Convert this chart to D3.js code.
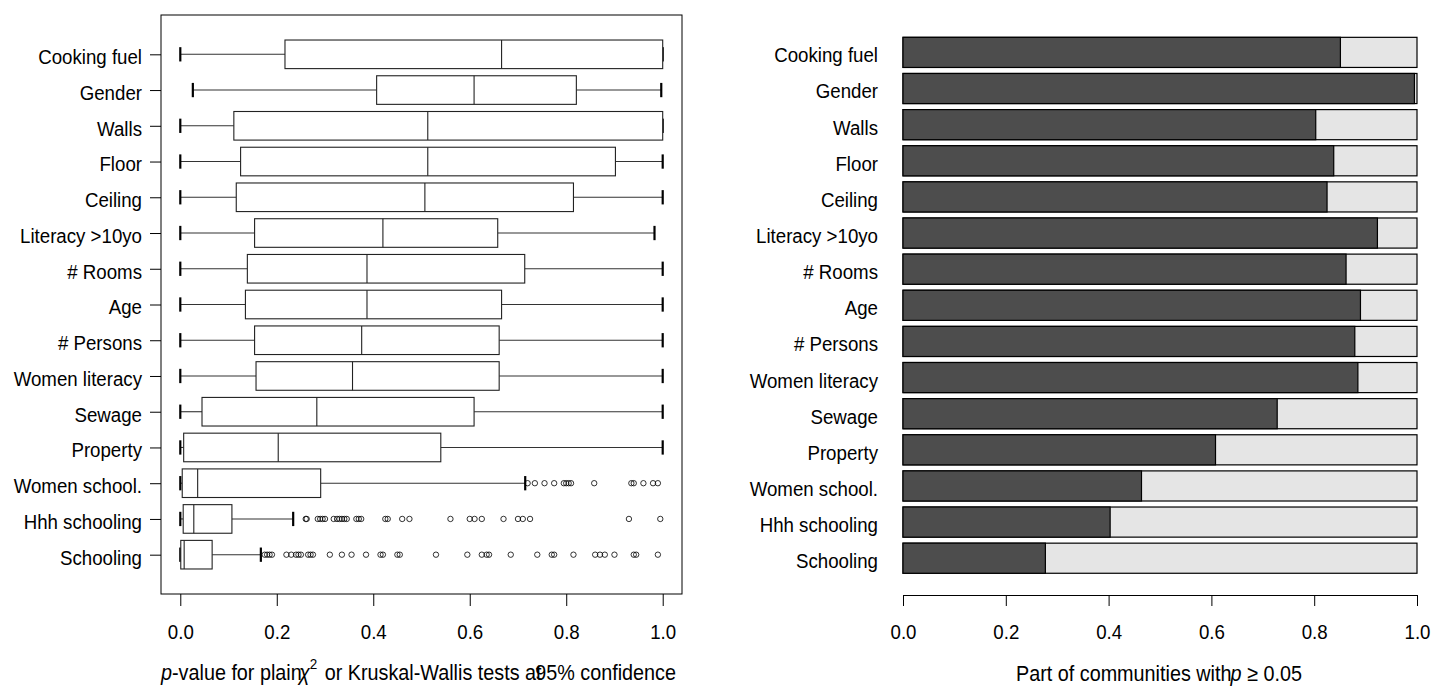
<!DOCTYPE html>
<html>
<head>
<meta charset="utf-8">
<script src="https://cdn.jsdelivr.net/npm/d3@7"></script>
<style>
  body { margin: 0; background: #fff; }
  svg { display: block; }
</style>
</head>
<body>
<div id="chart"></div>
<script>
// categories, top to bottom
const categories = ["Cooking fuel", "Gender", "Walls", "Floor", "Ceiling", "Literacy >10yo",
  "# Rooms", "Age", "# Persons", "Women literacy", "Sewage", "Property",
  "Women school.", "Hhh schooling", "Schooling"];

// box plot summaries of the p-values
const pMin    = [0, 0.026, 0, 0, 0, 0, 0, 0, 0, 0, 0, 0, 0, 0, 0];
const pQ1     = [0.217, 0.407, 0.111, 0.125, 0.116, 0.154, 0.139, 0.135, 0.154, 0.157, 0.045, 0.007, 0.004, 0.006, 0.001];
const pMedian = [0.666, 0.609, 0.513, 0.513, 0.507, 0.420, 0.387, 0.387, 0.376, 0.357, 0.283, 0.203, 0.036, 0.028, 0.008];
const pQ3     = [1.0, 0.821, 1.0, 0.902, 0.815, 0.658, 0.714, 0.666, 0.661, 0.661, 0.609, 0.540, 0.291, 0.107, 0.066];
const pMax    = [1, 0.997, 1, 1, 1, 0.983, 1, 1, 1, 1, 1, 1, 0.715, 0.234, 0.167];

// outliers
const outWomenSchool = [0.72, 0.735, 0.755, 0.775, 0.795, 0.80, 0.805, 0.81, 0.858, 0.935, 0.94, 0.96, 0.98, 0.99];
const outHhhSchooling = [0.26, 0.262, 0.285, 0.29, 0.295, 0.30, 0.318, 0.325, 0.33, 0.335, 0.34, 0.345,
  0.365, 0.37, 0.375, 0.425, 0.43, 0.46, 0.475, 0.56, 0.60, 0.61, 0.625, 0.67, 0.70, 0.71, 0.725, 0.93, 0.995];
const outSchooling = [0.175, 0.18, 0.185, 0.19, 0.22, 0.23, 0.24, 0.245, 0.25, 0.265, 0.27, 0.275, 0.31,
  0.335, 0.355, 0.385, 0.415, 0.42, 0.45, 0.455, 0.53, 0.595, 0.625, 0.635, 0.64, 0.685, 0.74, 0.77,
  0.775, 0.815, 0.86, 0.87, 0.88, 0.90, 0.94, 0.945, 0.99];

// share of communities with p >= 0.05
const partAbove = [0.851, 0.995, 0.803, 0.838, 0.825, 0.923, 0.862, 0.890, 0.879, 0.885, 0.728, 0.608, 0.464, 0.403, 0.277];

const xTicks = [0, 0.2, 0.4, 0.6, 0.8, 1.0];

const W = 1433, H = 686;
const FONT = "'Liberation Sans', Arial, Helvetica, sans-serif";
const SX = 0.89;  // the original text is a bit condensed

const svg = d3.select("#chart").append("svg")
  .attr("width", W).attr("height", H)
  .style("font-family", FONT);

const n = categories.length;

// ---------- left panel: box plots ----------
const xL = d3.scaleLinear().domain([-0.04, 1.04]).range([161, 682]);
const yL = d3.scaleLinear().domain([-0.1, n + 1.1]).range([594, 15]);
const pos = i => n - i;   // Cooking fuel on top

const boxes = categories.map((c, i) => ({
  name: c, y: pos(i), min: pMin[i], q1: pQ1[i], med: pMedian[i], q3: pQ3[i], max: pMax[i]
}));
const outliers = [
  ...outWomenSchool.map(v => ({ y: pos(12), v })),
  ...outHhhSchooling.map(v => ({ y: pos(13), v })),
  ...outSchooling.map(v => ({ y: pos(14), v }))
];

const left = svg.append("g");
const half = (yL(0) - yL(0.4));
const staple = (yL(0) - yL(0.2));

const bx = left.selectAll("g.box").data(boxes).join("g").attr("class", "box");
// whiskers
bx.append("line")
  .attr("x1", d => xL(d.min)).attr("x2", d => xL(d.q1))
  .attr("y1", d => yL(d.y)).attr("y2", d => yL(d.y))
  .attr("stroke", "#333").attr("stroke-width", 1.1);
bx.append("line")
  .attr("x1", d => xL(d.q3)).attr("x2", d => xL(d.max))
  .attr("y1", d => yL(d.y)).attr("y2", d => yL(d.y))
  .attr("stroke", "#333").attr("stroke-width", 1.1);
// staples
bx.selectAll("line.staple").data(d => [d.min, d.max].map(v => ({ v, y: d.y })))
  .join("line").attr("class", "staple")
  .attr("x1", d => xL(d.v)).attr("x2", d => xL(d.v))
  .attr("y1", d => yL(d.y) - staple).attr("y2", d => yL(d.y) + staple)
  .attr("stroke", "#000").attr("stroke-width", 2.2);
// box
bx.append("rect")
  .attr("x", d => xL(d.q1)).attr("width", d => xL(d.q3) - xL(d.q1))
  .attr("y", d => yL(d.y) - half).attr("height", half * 2)
  .attr("fill", "#fff").attr("stroke", "#222").attr("stroke-width", 1.1);
// median
bx.append("line")
  .attr("x1", d => xL(d.med)).attr("x2", d => xL(d.med))
  .attr("y1", d => yL(d.y) - half).attr("y2", d => yL(d.y) + half)
  .attr("stroke", "#222").attr("stroke-width", 1.1);

left.selectAll("circle.out").data(outliers).join("circle")
  .attr("class", "out")
  .attr("cx", d => xL(d.v)).attr("cy", d => yL(d.y))
  .attr("r", 2.7)
  .attr("fill", "none").attr("stroke", "#000").attr("stroke-width", 0.8);

// frame
left.append("rect")
  .attr("x", 161).attr("y", 15).attr("width", 682 - 161).attr("height", 594 - 15)
  .attr("fill", "none").attr("stroke", "#000").attr("stroke-width", 1);

// category axis
const yAxisL = left.append("g").attr("transform", "translate(161,0)")
  .call(d3.axisLeft(yL).tickValues(categories.map((c, i) => pos(i)))
    .tickFormat(v => categories[n - v]).tickSize(11).tickPadding(8));
yAxisL.select(".domain").remove();

// value axis
const xAxisL = left.append("g").attr("transform", "translate(0,594)")
  .call(d3.axisBottom(xL).tickValues(xTicks).tickFormat(d3.format(".1f"))
    .tickSize(12).tickSizeOuter(0).tickPadding(18));
xAxisL.select(".domain").remove();

// ---------- right panel: stacked bars ----------
const xR = d3.scaleLinear().domain([0, 1]).range([903, 1417]);
const yR = d3.scaleLinear().domain([-0.512, 18.712]).range([594.7, 15.9]);
const bars = categories.map((c, i) => ({ name: c, v: partAbove[i], lo: 0.2 + (n - 1 - i) * 1.2 }));

const right = svg.append("g");
right.selectAll("rect.rest").data(bars).join("rect").attr("class", "rest")
  .attr("x", xR(0)).attr("width", xR(1) - xR(0))
  .attr("y", d => yR(d.lo + 1)).attr("height", d => yR(d.lo) - yR(d.lo + 1))
  .attr("fill", "#e5e5e5").attr("stroke", "#000").attr("stroke-width", 1.2);
right.selectAll("rect.part").data(bars).join("rect").attr("class", "part")
  .attr("x", xR(0)).attr("width", d => xR(d.v) - xR(0))
  .attr("y", d => yR(d.lo + 1)).attr("height", d => yR(d.lo) - yR(d.lo + 1))
  .attr("fill", "#4d4d4d").attr("stroke", "#000").attr("stroke-width", 1.2);

const yAxisR = right.append("g").attr("transform", "translate(903,0)")
  .call(d3.axisLeft(yR).tickValues(bars.map(d => d.lo + 0.5))
    .tickFormat((v, i) => bars[i].name).tickSize(0).tickPadding(25));
yAxisR.select(".domain").remove();

const xAxisR = right.append("g").attr("transform", "translate(0,595)")
  .call(d3.axisBottom(xR).tickValues(xTicks).tickFormat(d3.format(".1f"))
    .tickSize(11).tickSizeOuter(0).tickPadding(18));

// axis styling
svg.selectAll(".tick line, .domain").attr("stroke", "#000");
svg.selectAll(".tick text")
  .attr("font-size", 21).attr("font-family", FONT).attr("fill", "#000")
  .attr("transform", `scale(${SX},1)`)
  .attr("x", function() { return (+this.getAttribute("x") || 0) / SX; });
yAxisL.selectAll(".tick text").attr("dy", "0.45em");
yAxisR.selectAll(".tick text").attr("dy", "0.45em");

// ---------- axis titles ----------
const tL = svg.append("g").attr("transform", `translate(161,680) scale(0.9,1)`)
  .append("text").attr("font-size", 22).attr("fill", "#000");
tL.append("tspan").attr("font-style", "italic").text("p");
tL.append("tspan").text("-value for plain");
tL.append("tspan").attr("dx", -3).attr("font-style", "italic").text("χ");
tL.append("tspan").attr("dy", -11).attr("font-size", 15).text("2");
tL.append("tspan").attr("dy", 11).attr("dx", 2).text(" or Kruskal-Wallis tests at");
tL.append("tspan").attr("dx", -7).text("95% confidence");

const tR = svg.append("g").attr("transform", `translate(1016,681) scale(0.9,1)`)
  .append("text").attr("font-size", 22).attr("fill", "#000");
tR.append("tspan").text("Part of communities with");
tR.append("tspan").attr("dx", -1).attr("font-style", "italic").text("p");
tR.append("tspan").text(" ≥ 0.05");
</script>
</body>
</html>
